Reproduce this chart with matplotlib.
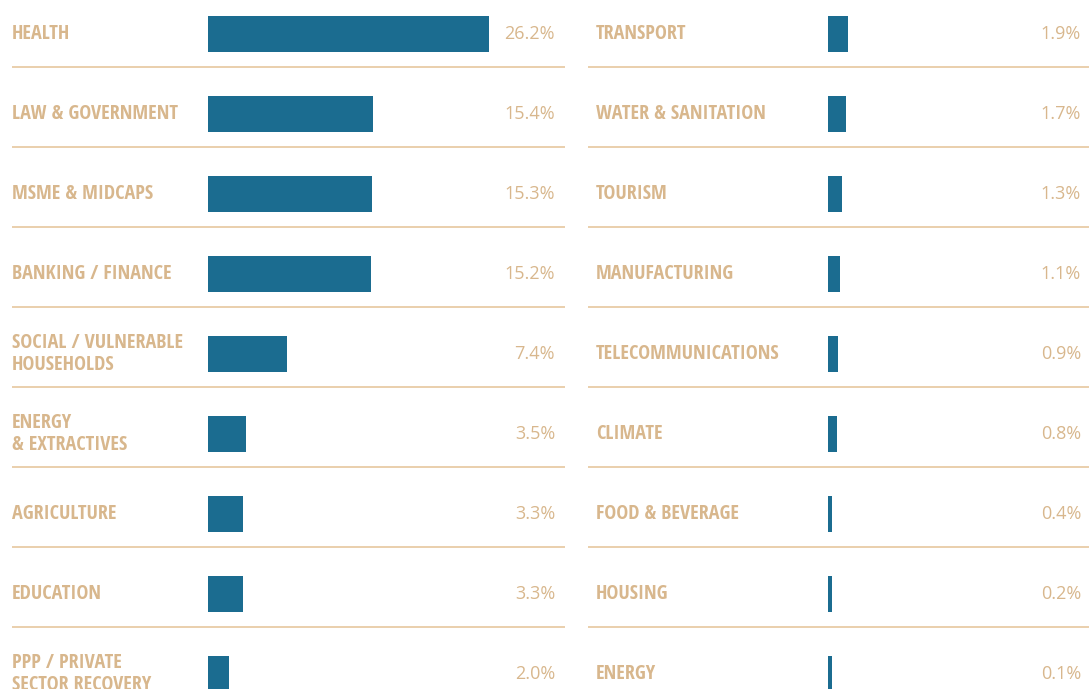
import numpy as np
import matplotlib
matplotlib.use("Agg")
import matplotlib.pyplot as plt

# left column
left_labels = ["HEALTH", "LAW & GOVERNMENT", "MSME & MIDCAPS", "BANKING / FINANCE",
               "SOCIAL / VULNERABLE\nHOUSEHOLDS", "ENERGY\n& EXTRACTIVES",
               "AGRICULTURE", "EDUCATION", "PPP / PRIVATE\nSECTOR RECOVERY"]
left_values = [26.2, 15.4, 15.3, 15.2, 7.4, 3.5, 3.3, 3.3, 2.0]

# right column
right_labels = ["TRANSPORT", "WATER & SANITATION", "TOURISM", "MANUFACTURING",
                "TELECOMMUNICATIONS", "CLIMATE", "FOOD & BEVERAGE", "HOUSING", "ENERGY"]
right_values = [1.9, 1.7, 1.3, 1.1, 0.9, 0.8, 0.4, 0.2, 0.1]

BAR = "#1b6c90"
TAN = "#d8b78d"
RULE = "#e8cba6"
LABEL_FONT = ["Open Sans Condensed", "DejaVu Sans"]
VALUE_FONT = ["Open Sans", "DejaVu Sans"]

W, H = 1089, 689
PX_PER_PCT = 10.73

fig = plt.figure(figsize=(W / 100, H / 100), dpi=100)


def column(x0, x1, bar_x, value_x, label_x, labels, values):
    ax = fig.add_axes([x0 / W, 0, (x1 - x0) / W, 1])
    width = x1 - x0
    ax.set_xlim(-(bar_x - x0) / PX_PER_PCT, (width - (bar_x - x0)) / PX_PER_PCT)
    ax.set_ylim((H - 34) / 80, -34 / 80)
    ax.axis("off")
    y = np.arange(len(values))
    # thin values still get a visible sliver
    shown = np.maximum(values, 0.37)
    ax.barh(y, shown, height=0.45, color=BAR)
    for i in range(len(values) - 1):
        ax.axhline(i + 33 / 80, color=RULE, lw=1.3)
    for yi, lab, v in zip(y, labels, values):
        ax.text((label_x - x0) / width, yi, lab, transform=ax.get_yaxis_transform(),
                ha="left", va="center", color=TAN, fontsize=14.5,
                fontweight="bold", family=LABEL_FONT, fontstretch="condensed",
                linespacing=1.12)
        ax.text((value_x - x0) / width, yi, f"{v:.1f}%", transform=ax.get_yaxis_transform(),
                ha="right", va="center", color=TAN, fontsize=13, fontweight="normal",
                family=VALUE_FONT)
    return ax


column(12, 565, 208, 555, 12, left_labels, left_values)
column(588, 1089, 828, 1081, 596, right_labels, right_values)

fig.savefig("out.png", dpi=100)
